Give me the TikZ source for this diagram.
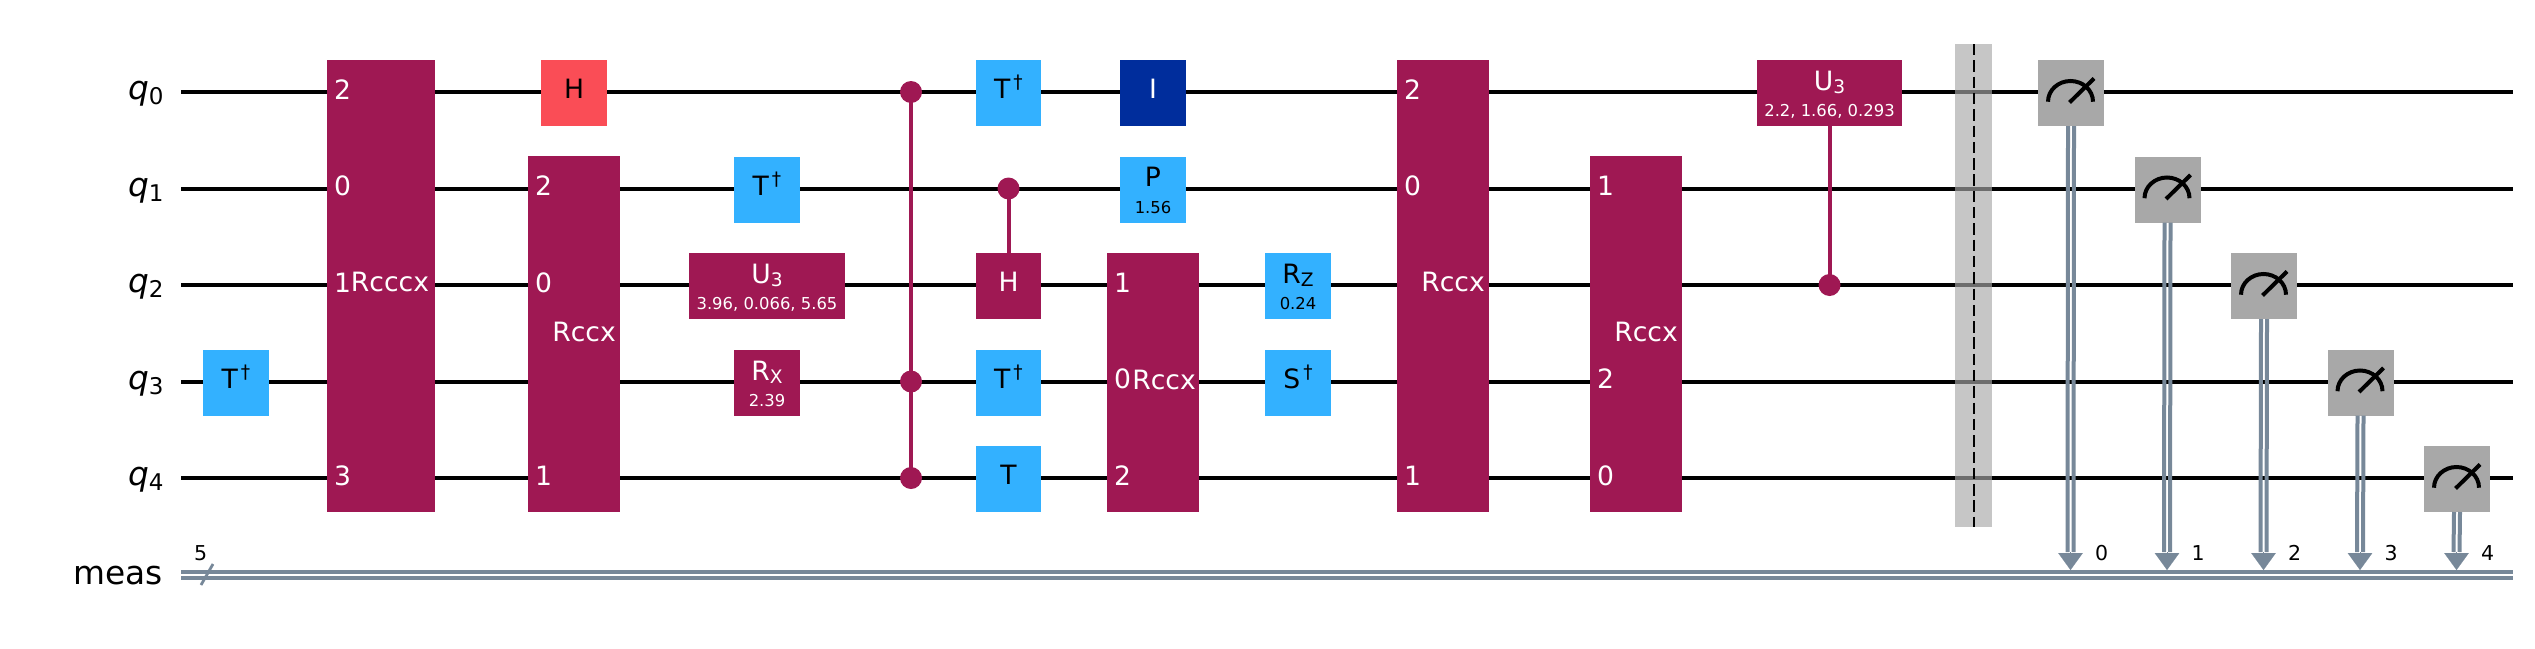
\documentclass[tikz,border=0pt]{standalone}
\usepackage{fontspec}
\setmainfont{DejaVu Sans}
\usetikzlibrary{arrows.meta}
\definecolor{maroon}{HTML}{9F1853}
\definecolor{skyb}{HTML}{33B1FF}
\definecolor{redg}{HTML}{FA4D56}
\definecolor{navyg}{HTML}{002D9C}
\definecolor{meterg}{HTML}{A8A8A8}
\definecolor{slate}{HTML}{778899}
\newcommand{\fg}{\fontsize{26.6}{30}\selectfont}
\newcommand{\fsm}{\fontsize{16.4}{20}\selectfont}
\newcommand{\fsb}{\fontsize{18.6}{22}\selectfont}
\newcommand{\fq}{\fontsize{32.8}{36}\selectfont}
\newcommand{\fqs}{\fontsize{23}{26}\selectfont}
\newcommand{\fc}{\fontsize{20.5}{24}\selectfont}
% centred text, offset from the centre of its box (dy downwards)
\newcommand{\ctr}[3]{\makebox[0pt][l]{\hspace*{#1pt}\raisebox{\dimexpr-#2pt\relax}[0pt][0pt]{\makebox[0pt][c]{#3}}}}
% left aligned text
\newcommand{\lft}[3]{\makebox[0pt][l]{\hspace*{#1pt}\raisebox{\dimexpr-#2pt\relax}[0pt][0pt]{#3}}}
\newcommand{\dg}[1]{#1\hspace{3pt}\raisebox{10pt}{\fsb †}}
\newcommand{\sbt}[2]{#1\raisebox{-3.4pt}{\fsb #2}}
\newcommand{\qlab}[1]{\textit{q}\raisebox{-5pt}{\fqs #1}}
\tikzset{
  gatebox/.style={rectangle,inner sep=0pt,outer sep=0pt,draw=none,minimum width=66pt,minimum height=66pt,font=\fg},
  bluegate/.style={gatebox,fill=skyb,text=black},
  marongate/.style={gatebox,fill=maroon,text=white},
  redgate/.style={gatebox,fill=redg,text=black},
  navygate/.style={gatebox,fill=navyg,text=white},
  metergate/.style={gatebox,fill=meterg},
  wire/.style={draw=black,line width=4pt},
  clwire/.style={draw=slate,line width=4pt},
  ctrl/.style={draw=maroon,line width=4pt},
  dot/.style={circle,fill=maroon,draw=none,inner sep=0pt,outer sep=0pt,minimum size=22pt},
  needle/.style={draw=black,line width=4pt},
  barrierbox/.style={rectangle,draw=none,inner sep=0pt,outer sep=0pt,fill=meterg,fill opacity=.65,minimum width=37pt,minimum height=483pt},
  barrierline/.style={draw=black,line width=2.8pt,dash pattern=on 11.4pt off 4.9pt},
  reglabel/.style={inner sep=0pt,outer sep=0pt,anchor=base east,font=\fq,text=black},
  clabel/.style={inner sep=0pt,outer sep=0pt,anchor=base,font=\fc,text=black},
  cltip/.style={draw=slate,line width=.1pt,-{Triangle[width=24.6pt,length=17pt,fill=slate]}},
}
\begin{document}
\begin{tikzpicture}[x=1pt,y=-1pt]
\useasboundingbox (0,0) rectangle (2535,648);
% wire ends
\foreach \n/\y in {0/92,1/188.5,2/285,3/381.5,4/478}{
  \coordinate (qs\n) at (181,\y);
  \coordinate (qe\n) at (2513,\y);
  \draw[wire] (qs\n) -- (qe\n);
}
\coordinate (cs1) at (181,572); \coordinate (ce1) at (2513,572);
\coordinate (cs2) at (181,578); \coordinate (ce2) at (2513,578);
\draw[clwire] (cs1) -- (ce1);
\draw[clwire] (cs2) -- (ce2);
\coordinate (sl1) at (201,585); \coordinate (sl2) at (213,564);
\draw[draw=slate,line width=2.8pt] (sl1) -- (sl2);
% register labels
\node[reglabel] (lq0) at (163.5,99.7) {\qlab{0}};
\node[reglabel] (lq1) at (163.5,196.2) {\qlab{1}};
\node[reglabel] (lq2) at (163.5,292.7) {\qlab{2}};
\node[reglabel] (lq3) at (163.5,389.2) {\qlab{3}};
\node[reglabel] (lq4) at (163.5,485.7) {\qlab{4}};
\node[reglabel] (lmeas) at (162.5,584) {meas};
\node[clabel] (lfive) at (200.7,560.7) {5};
% control lines
\node[dot] (da) at (911,92) {};
\node[dot] (db) at (911,381.5) {};
\node[dot] (dc) at (911,478) {};
\draw[ctrl] (da.center) -- (dc.center);
\node[dot] (dd) at (1008.5,188.5) {};
\node[dot] (de) at (1829.5,285) {};
% gates
\node[bluegate] (g1) at (236,382.5) {\ctr{0}{5.5}{\dg{T}}};
\node[marongate,minimum width=108pt,minimum height=452pt] (g2) at (381,286)
  {\lft{-47}{-187}{2}\lft{-47}{-90.5}{0}\lft{-47}{6}{1}\lft{-47}{199}{3}\ctr{9}{5.7}{Rcccx}};
\node[redgate] (g3) at (574,93) {\ctr{0}{5.5}{H}};
\node[marongate,minimum width=92pt,minimum height=356pt] (g4) at (574,334)
  {\lft{-39}{-138.5}{2}\lft{-39}{-42}{0}\lft{-39}{151}{1}\ctr{10}{7}{Rccx}};
\node[bluegate] (g5) at (767,189.5) {\ctr{0}{5.5}{\dg{T}}};
\node[marongate,minimum width=156pt] (g6) at (767,286)
  {\ctr{0}{-3}{\sbt{U}{3}}\ctr{0}{23.5}{\fsm 3.96, 0.066, 5.65}};
\node[marongate] (g7) at (767,383)
  {\ctr{0}{-3}{\sbt{R}{X}}\ctr{0}{23.5}{\fsm 2.39}};
\node[bluegate,minimum width=65pt] (g8) at (1008.5,93) {\ctr{0}{5.5}{\dg{T}}};
\node[marongate,minimum width=65pt] (g9) at (1008.5,286) {\ctr{0}{5.5}{H}};
\node[bluegate,minimum width=65pt] (g10) at (1008.5,383) {\ctr{0}{5.5}{\dg{T}}};
\node[bluegate,minimum width=65pt] (g11) at (1008.5,479) {\ctr{0}{5.5}{T}};
\node[navygate] (g12) at (1153,93) {\ctr{0}{5.5}{I}};
\node[bluegate] (g13) at (1153,189.5)
  {\ctr{0}{-3}{P}\ctr{0}{23.5}{\fsm 1.56}};
\node[marongate,minimum width=92pt,minimum height=259pt] (g14) at (1153,382.5)
  {\lft{-39}{-90.5}{1}\lft{-39}{6}{0}\lft{-39}{102.5}{2}\ctr{11}{6.8}{Rccx}};
\node[bluegate] (g15) at (1298,286)
  {\ctr{0}{-3}{\sbt{R}{Z}}\ctr{0}{23.5}{\fsm 0.24}};
\node[bluegate] (g16) at (1298,383) {\ctr{0}{5.5}{\dg{S}}};
\node[marongate,minimum width=92pt,minimum height=452pt] (g17) at (1443,286)
  {\lft{-39}{-187}{2}\lft{-39}{-90.5}{0}\lft{-39}{199}{1}\ctr{10}{5.7}{Rccx}};
\node[marongate,minimum width=92pt,minimum height=356pt] (g18) at (1636,334)
  {\lft{-39}{-138.5}{1}\lft{-39}{54.5}{2}\lft{-39}{151}{0}\ctr{10}{7}{Rccx}};
\node[marongate,minimum width=145pt] (g19) at (1829.5,93)
  {\ctr{0}{-3}{\sbt{U}{3}}\ctr{0}{23.5}{\fsm 2.2, 1.66, 0.293}};
% controls to their targets
\draw[ctrl] (dd.center) -- (g9.north);
\draw[ctrl] (de.center) -- (g19.south);
% barrier
\node[barrierbox] (bar) at (1973.5,285.5) {};
\coordinate (bart) at (1974,44); \coordinate (barb) at (1974,527);
\draw[barrierline] (bart) -- (barb);
% measurements
\foreach \k/\cx/\y in {0/2070.5/92,1/2167/188.5,2/2263.5/285,3/2360/381.5,4/2456.5/478}{
  \node[metergate] (m\k) at (\cx+.5,\y+1) {};
  \coordinate (ma\k) at (\cx,552);
  \coordinate (mt\k) at (\cx,570);
  \draw[clwire] ([xshift=-3pt]m\k.south) -- ([xshift=-3pt]ma\k);
  \draw[clwire] ([xshift=3pt]m\k.south) -- ([xshift=3pt]ma\k);
  \draw[cltip] (ma\k) -- (mt\k);
  \draw[needle] ([shift={(-23,8.7)}]m\k.center) arc[start angle=180,end angle=0,x radius=22.5pt,y radius=20.7pt];
  \draw[needle] ([shift={(-1.5,9.5)}]m\k.center) -- ([shift={(23,-14.5)}]m\k.center);
  \node[clabel] (mn\k) at (\cx+31,560.7) {\k};
}
\end{tikzpicture}
\end{document}
